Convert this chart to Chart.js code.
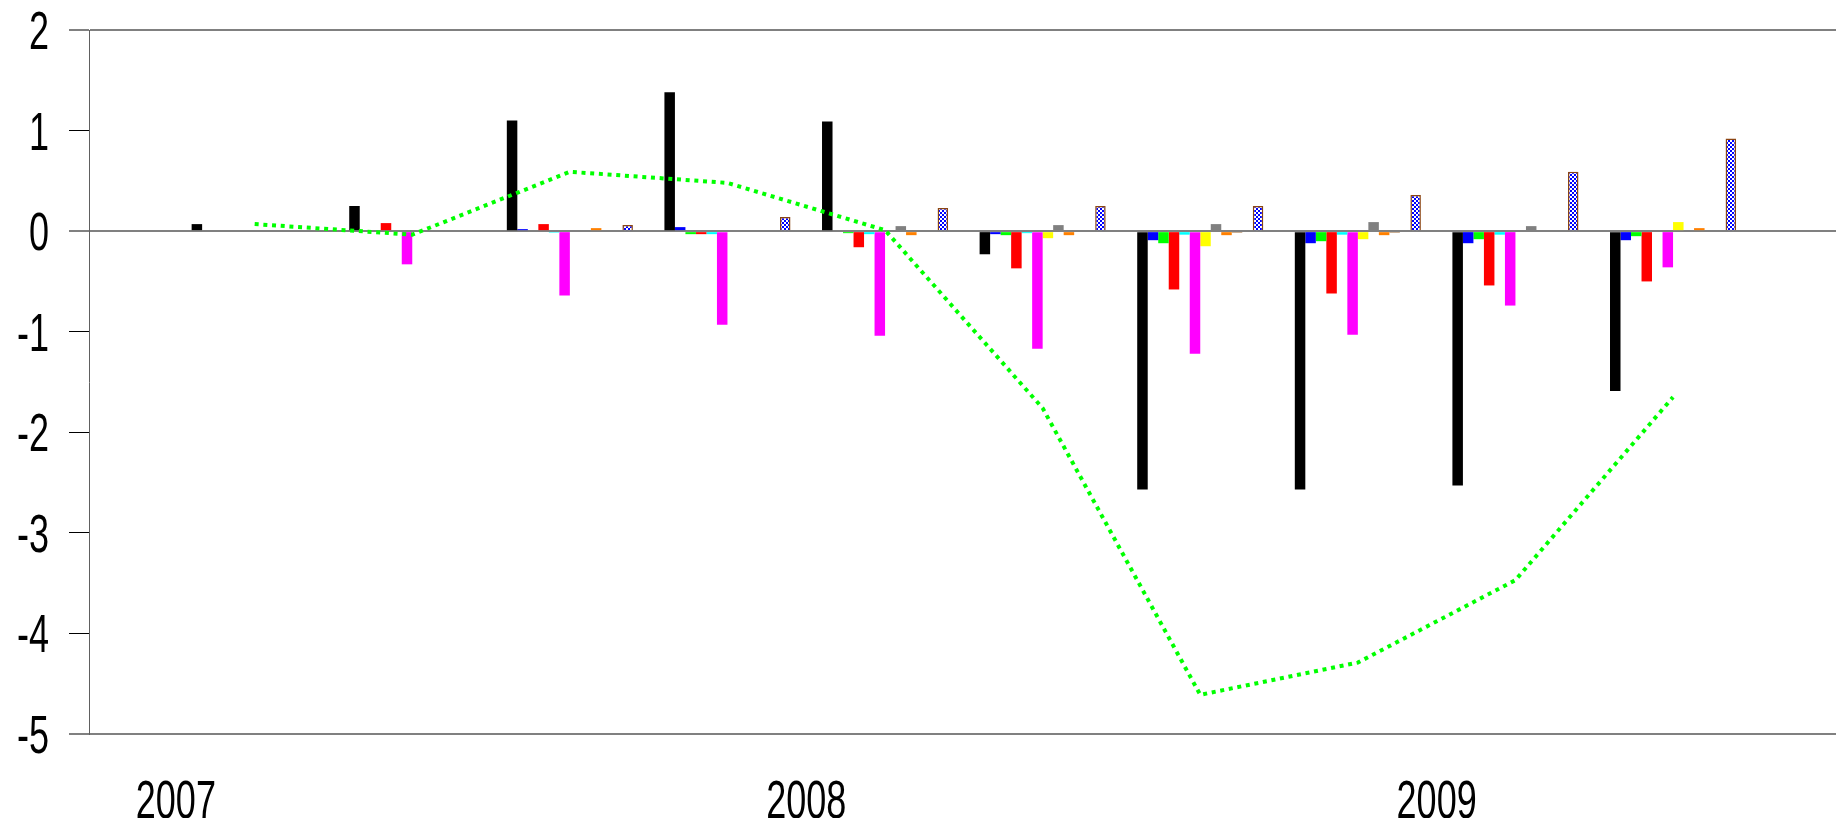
<!DOCTYPE html>
<html>
<head>
<meta charset="utf-8">
<title>Quarterly contributions 2007-2009</title>
<script src="https://cdn.jsdelivr.net/npm/chart.js@4.4.0/dist/chart.umd.min.js"></script>
<style>
  html, body { margin: 0; padding: 0; background: #ffffff; }
  #wrap { width: 1836px; height: 818px; }
</style>
</head>
<body>
<div id="wrap"><canvas id="chart"></canvas></div>
<script>
/* ======================================================
   DATA  (quarterly, 2007Q1 - 2009Q2)
====================================================== */

const quarters = ["2007Q1", "2007Q2", "2007Q3", "2007Q4",
                  "2008Q1", "2008Q2", "2008Q3", "2008Q4",
                  "2009Q1", "2009Q2"];
// position of each quarter on the time axis (mid-quarter, in years)
const quarterPos = [2007.125, 2007.375, 2007.625, 2007.875,
                    2008.125, 2008.375, 2008.625, 2008.875,
                    2009.125, 2009.375];
const yearTicks = [2007, 2008, 2009];

const seriesBlack   = [0.07, 0.25, 1.10, 1.38, 1.09, -0.23, -2.57, -2.57, -2.53, -1.59];
const seriesBlue    = [0, 0, 0.02, 0.04, 0, -0.03, -0.09, -0.12, -0.12, -0.09];
const seriesGreen   = [0, 0, 0, -0.03, -0.02, -0.04, -0.12, -0.10, -0.08, -0.05];
const seriesRed     = [0, 0.08, 0.07, -0.03, -0.16, -0.37, -0.58, -0.62, -0.54, -0.50];
const seriesCyan    = [0, 0, -0.015, -0.03, -0.03, -0.02, -0.035, -0.035, -0.035, -0.01];
const seriesMagenta = [0, -0.33, -0.64, -0.93, -1.04, -1.17, -1.22, -1.03, -0.74, -0.36];
const seriesYellow  = [0, -0.01, 0, 0, 0, -0.07, -0.15, -0.08, 0, 0.09];
const seriesGray    = [0, 0, 0, 0, 0.05, 0.06, 0.07, 0.09, 0.05, 0];
const seriesOrange  = [0, 0, 0.03, 0, -0.04, -0.04, -0.04, -0.04, 0, 0.03];
const seriesBrown   = [0, 0, 0, 0, 0, 0, -0.015, -0.015, 0, 0];
const seriesEmpty   = [null, null, null, null, null, null, null, null, null, null];
const seriesHatched = [0, 0, 0.06, 0.14, 0.23, 0.25, 0.25, 0.36, 0.59, 0.92];

const seriesTotal   = [0.07, -0.035, 0.59, 0.48, 0.01, -1.76, -4.61, -4.29, -3.47, -1.65];

/* ======================================================
   HELPERS
====================================================== */

const LABEL_FONT = "53px 'Liberation Sans', Arial, sans-serif";
const LABEL_SQUASH = 0.68;   // narrow look of the original axis font
const RULED = [2, 0, -5];    // y values that get a full-width gray rule

function points(values) {
  return quarterPos.map((x, i) => ({ x: x, y: values[i] }));
}

function hatchPattern() {
  const c = document.createElement("canvas");
  c.width = 4;
  c.height = 4;
  const g = c.getContext("2d");
  g.fillStyle = "#ffffff";
  g.fillRect(0, 0, 4, 4);
  g.fillStyle = "#0000ff";
  for (let y = 0; y < 4; y++) {
    for (let x = 0; x < 4; x++) {
      if (((x >> 1) + (y >> 1)) % 2 === 0) g.fillRect(x, y, 1, 1);
    }
  }
  return g.createPattern(c, "repeat");
}

function bar(values, color) {
  return {
    type: "bar",
    data: points(values),
    backgroundColor: color,
    borderWidth: 0,
    order: 1
  };
}

function squashedText(ctx, text, x, baseline) {
  ctx.save();
  ctx.translate(x, baseline);
  ctx.scale(LABEL_SQUASH, 1);
  ctx.fillText(text, 0, 0);
  ctx.restore();
}

// axis labels drawn by hand so they can be condensed like the original
const condensedLabels = {
  id: "condensedLabels",
  afterDraw(chart) {
    const ctx = chart.ctx;
    const xs = chart.scales.x;
    const ys = chart.scales.y;
    ctx.save();
    ctx.fillStyle = "#000000";
    ctx.font = LABEL_FONT;
    ctx.textBaseline = "alphabetic";

    ctx.textAlign = "right";
    ys.ticks.forEach((t, i) => {
      squashedText(ctx, t.label ?? String(t.value), 49, ys.getPixelForTick(i) + 19);
    });

    ctx.textAlign = "center";
    xs.ticks.forEach((t, i) => {
      squashedText(ctx, t.label ?? String(t.value), xs.getPixelForTick(i), 818);
    });
    ctx.restore();
  }
};

/* ======================================================
   CHART
====================================================== */

const hatched = bar(seriesHatched, hatchPattern());
hatched.borderColor = "#8b4513";
hatched.borderWidth = 1.5;

const datasets = [
  bar(seriesBlack, "#000000"),
  bar(seriesBlue, "#0000ff"),
  bar(seriesGreen, "#00ff00"),
  bar(seriesRed, "#ff0000"),
  bar(seriesCyan, "#00ffff"),
  bar(seriesMagenta, "#ff00ff"),
  bar(seriesYellow, "#ffff00"),
  bar(seriesGray, "#808080"),
  bar(seriesOrange, "#ff8000"),
  bar(seriesBrown, "#996633"),
  bar(seriesEmpty, "#c0c0c0"),
  hatched,
  {
    type: "line",
    data: points(seriesTotal),
    borderColor: "#00ff00",
    borderWidth: 4,
    borderDash: [4, 4.7],
    borderCapStyle: "butt",
    pointRadius: 0,
    tension: 0,
    fill: false,
    order: 0
  }
];

function noPad(s) {
  s.paddingTop = 0;
  s.paddingBottom = 0;
  s.paddingLeft = 0;
  s.paddingRight = 0;
}

new Chart(document.getElementById("chart"), {
  type: "bar",
  data: { labels: quarters, datasets },
  plugins: [condensedLabels],
  options: {
    responsive: true,
    maintainAspectRatio: false,
    animation: false,
    layout: { padding: { top: 30, right: 0, bottom: 0, left: 0 } },
    datasets: { bar: { categoryPercentage: 0.8, barPercentage: 1.0 } },
    plugins: { legend: { display: false }, tooltip: { enabled: false } },
    scales: {
      x: {
        type: "linear",
        offset: false,
        min: 2006.8622,
        max: 2009.6335,
        grid: { display: false, drawTicks: false },
        border: { display: false },
        afterBuildTicks: s => { s.ticks = yearTicks.map(v => ({ value: v })); },
        afterFit: s => { s.height = 84; noPad(s); },
        ticks: {
          display: false,
          autoSkip: false,
          maxRotation: 0,
          callback: v => String(v)
        }
      },
      y: {
        min: -5,
        max: 2,
        afterFit: s => { s.width = 89; noPad(s); },
        grid: {
          color: c => RULED.includes(c.tick.value) ? "#808080" : "rgba(0,0,0,0)",
          lineWidth: c => RULED.includes(c.tick.value) ? 2 : 1,
          tickColor: c => RULED.includes(c.tick.value) ? "#808080" : "#000000",
          tickWidth: c => RULED.includes(c.tick.value) ? 2 : 1,
          tickLength: 20,
          drawTicks: true
        },
        border: { display: true, color: "#606060", width: 1 },
        ticks: {
          display: false,
          stepSize: 1,
          callback: v => String(v)
        }
      }
    }
  }
});
</script>
</body>
</html>
